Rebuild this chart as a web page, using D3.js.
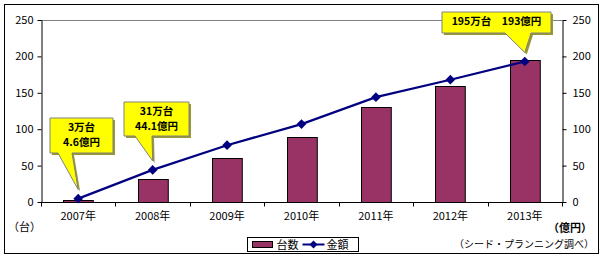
<!DOCTYPE html>
<html lang="ja">
<head>
<meta charset="utf-8">
<title>台数・金額</title>
<script src="https://cdn.jsdelivr.net/npm/d3@7"></script>
<style>
  body { margin: 0; background: #fff; }
  text { font-family: "Noto Sans CJK JP", sans-serif; font-size: 11px; fill: #000; }
</style>
</head>
<body>
<script>
// data
var years = ["2007年", "2008年", "2009年", "2010年", "2011年", "2012年", "2013年"];
var units = [3, 31, 60, 89, 130, 160, 195];          // 台数（万台）
var amount = [4.6, 44.1, 78, 107, 144, 168, 193];     // 金額（億円）
var ticks = [0, 50, 100, 150, 200, 250];
var callouts = [
  {i: 0, lines: ["3万台", "4.6億円"]},
  {i: 1, lines: ["31万台", "44.1億円"]},
  {i: 6, lines: ["195万台　193億円"]}
];

var W = 606, H = 259;
var plotL = 41, plotR = 562, plotT = 20, plotB = 202;

var svg = d3.select("body").append("svg")
    .attr("width", W)
    .attr("height", H);

// outer frame
svg.append("rect")
    .attr("x", 4.5).attr("y", 4.5)
    .attr("width", 594).attr("height", 249)
    .attr("fill", "#fff")
    .attr("stroke", "#000");

var x = d3.scaleBand().domain(years).range([plotL, plotR]).paddingInner(0.6).paddingOuter(0.3);
var y = d3.scaleLinear().domain([0, 250]).range([plotB, plotT]);

// top border line of plot
svg.append("line")
    .attr("x1", plotL).attr("x2", plotR)
    .attr("y1", y(250) + 0.5).attr("y2", y(250) + 0.5)
    .attr("stroke", "#808080");

// bars
svg.selectAll(".bar")
    .data(units)
    .enter()
    .append("rect")
    .attr("class", "bar")
    .attr("x", function(d, i) { return Math.round(x(years[i])) + 0.5; })
    .attr("y", function(d) { return Math.round(y(d)) + 0.5; })
    .attr("width", x.bandwidth())
    .attr("height", function(d) { return Math.round(y(0)) - Math.round(y(d)); })
    .attr("fill", "#993366")
    .attr("stroke", "#000");

// axes
var yl = svg.append("g")
    .attr("transform", "translate(" + (plotL + 0.5) + ",0)")
    .call(d3.axisLeft(y).tickValues(ticks).tickSize(4).tickSizeOuter(0).tickPadding(4));
var yr = svg.append("g")
    .attr("transform", "translate(" + (plotR + 0.5) + ",0)")
    .call(d3.axisRight(y).tickValues(ticks).tickSize(4).tickSizeOuter(0).tickPadding(6));
[yl, yr].forEach(function(g) {
    g.select(".domain").attr("stroke", "#000");
    g.selectAll("line").attr("stroke", "#000");
    g.selectAll("text").style("font-family", "'Noto Sans CJK JP', sans-serif").style("font-size", "11px");
});

// x axis with ticks between categories
var xg = svg.append("g").attr("transform", "translate(0," + (plotB + 0.5) + ")");
xg.append("line")
    .attr("x1", plotL).attr("x2", plotR + 1)
    .attr("stroke", "#000");
var step = x.step();
xg.selectAll(".xt")
    .data(d3.range(years.length + 1))
    .enter()
    .append("line")
    .attr("x1", function(i) { return Math.round(plotL + i * step) + 0.5; })
    .attr("x2", function(i) { return Math.round(plotL + i * step) + 0.5; })
    .attr("y1", 0).attr("y2", 4)
    .attr("stroke", "#000");
xg.selectAll(".xl")
    .data(years)
    .enter()
    .append("text")
    .attr("x", function(d) { return x(d) + x.bandwidth() / 2; })
    .attr("y", 17)
    .attr("text-anchor", "middle")
    .text(function(d) { return d; });

// amount line
var cx = function(i) { return x(years[i]) + x.bandwidth() / 2; };
svg.append("path")
    .datum(amount)
    .attr("fill", "none")
    .attr("stroke", "#000080")
    .attr("stroke-width", 2.2)
    .attr("d", d3.line().x(function(d, i) { return cx(i); }).y(function(d) { return y(d); }));
svg.selectAll(".mk")
    .data(amount)
    .enter()
    .append("path")
    .attr("transform", function(d, i) { return "translate(" + cx(i) + "," + y(d) + ")"; })
    .attr("d", d3.symbol().type(d3.symbolDiamond2).size(60))
    .attr("fill", "#000080");

// callouts
var boxes = [
  {x: 50, y: 118, w: 63, h: 35, b0: 58, b1: 72},
  {x: 124, y: 102, w: 65, h: 34, b0: 135, b1: 152},
  {x: 442, y: 12, w: 109, h: 21, b0: 505, b1: 531}
];
callouts.forEach(function(c, k) {
    var b = boxes[k];
    var tx = cx(c.i), ty = y(amount[c.i]) - 9;
    var shape = "M" + b.x + "," + b.y + "H" + (b.x + b.w) + "V" + (b.y + b.h) +
        "H" + b.b1 + "L" + tx + "," + ty + "L" + b.b0 + "," + (b.y + b.h) + "H" + b.x + "Z";
    svg.append("path")
        .attr("d", shape)
        .attr("transform", "translate(2,2)")
        .attr("fill", "#999933");
    svg.append("path")
        .attr("d", shape)
        .attr("fill", "#ffff00")
        .attr("stroke", "#808080")
        .attr("stroke-width", 1);
    c.lines.forEach(function(s, j) {
        svg.append("text")
            .attr("x", b.x + b.w / 2)
            .attr("y", b.y + 13 + j * 15)
            .attr("text-anchor", "middle")
            .style("font-weight", "bold")
            .style("font-size", "10.5px")
            .text(s);
    });
});

// axis unit labels
svg.append("text").attr("x", 8).attr("y", 231).text("（台）");
svg.append("text").attr("x", 548).attr("y", 232).style("font-weight", "bold").text("（億円）");
svg.append("text").attr("x", 594).attr("y", 248).attr("text-anchor", "end").style("font-size", "10px").text("（シード・プランニング調べ）");

// legend
var lg = svg.append("g").attr("transform", "translate(247.5,237.5)");
lg.append("rect").attr("width", 111).attr("height", 14).attr("fill", "#fff").attr("stroke", "#000");
lg.append("rect").attr("x", 5).attr("y", 4).attr("width", 20).attr("height", 6)
    .attr("fill", "#993366").attr("stroke", "#000");
lg.append("text").attr("x", 29).attr("y", 11).text("台数");
lg.append("line").attr("x1", 55).attr("x2", 77).attr("y1", 7).attr("y2", 7)
    .attr("stroke", "#000080").attr("stroke-width", 2);
lg.append("path").attr("transform", "translate(66,7)")
    .attr("d", d3.symbol().type(d3.symbolDiamond2).size(40)).attr("fill", "#000080");
lg.append("text").attr("x", 79).attr("y", 11).text("金額");
</script>
</body>
</html>
